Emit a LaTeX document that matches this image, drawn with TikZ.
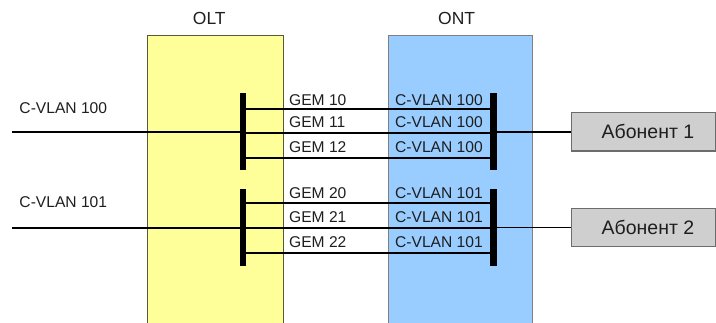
\documentclass[tikz,border=0pt]{standalone}
\usepackage{fontspec}
\setmainfont{Liberation Sans}
\definecolor{oltfill}{HTML}{FFFF99}
\definecolor{ontfill}{HTML}{99CCFF}
\definecolor{abfill}{HTML}{CFCFCF}
\definecolor{txt}{HTML}{1E1E1E}
\begin{document}
\begin{tikzpicture}[x=1pt,y=-1pt,
  devbox/.style={draw=#1, line width=1pt, anchor=north west, inner sep=0pt},
  busbar/.style={fill=black, draw=none, minimum width=6.5, inner sep=0pt},
  link/.style={line width=1.8pt, draw=black},
  lbl/.style={text=txt, inner sep=0pt, anchor=base west, font=\fontsize{15.6}{18}\selectfont},
  title/.style={text=txt, inner sep=0pt, anchor=base, font=\fontsize{17.5}{20}\selectfont},
  subbox/.style={draw=gray!85!black, fill=abfill, line width=1.2pt, inner sep=0pt,
    minimum width=144.3, minimum height=38.5, anchor=west, text=txt,
    font=\fontsize{19.5}{22}\selectfont}]
\useasboundingbox (0,0) rectangle (716,323);
\clip (0,0) rectangle (716,323);
% device boxes
\node[devbox=black!65!oltfill, fill=oltfill, minimum width=136, minimum height=300] (olt) at (147,35) {};
\node[devbox=gray, fill=ontfill, minimum width=144.6, minimum height=300] (ont) at (387.7,35) {};
\node[title] (oltt) at (209.3,25) {OLT};
\node[title] (ontt) at (456.7,25) {ONT};
% bus bars
\node[busbar, minimum height=77.3] (b1) at (243,131.3) {};
\node[busbar, minimum height=77.3] (b2) at (243,227.4) {};
\node[busbar, minimum height=77.3] (c1) at (493.7,131.3) {};
\node[busbar, minimum height=77.3] (c2) at (493.7,227.4) {};
% row coordinates
\coordinate (r10) at (0,109.3);
\coordinate (r11) at (0,133.3);
\coordinate (r12) at (0,158.3);
\coordinate (r20) at (0,203.3);
\coordinate (r21) at (0,227.7);
\coordinate (r22) at (0,252.7);
\coordinate (in1) at (12,131.7);
\coordinate (in2) at (12,227.7);
% subscriber boxes
\node[subbox] (ab1) at (570.7,131.7) {\hspace*{9pt}Абонент 1};
\node[subbox] (ab2) at (570.7,227.5) {\hspace*{9pt}Абонент 2};
% GEM links
\foreach \r/\a/\b in {r10/b1/c1, r11/b1/c1, r12/b1/c1, r20/b2/c2, r21/b2/c2, r22/b2/c2}
  \draw[link] (\a.east |- \r) -- (\b.west |- \r);
% inputs and outputs
\draw[link] (in1) -- (b1.west |- in1);
\draw[link] (in2) -- (b2.west |- in2);
\draw[link] (c1.east |- ab1.west) -- (ab1.west);
\draw[link] (c2.east |- ab2.west) -- (ab2.west);
% labels
\node[lbl] (v100) at (19.3,114) {C-VLAN 100};
\node[lbl] (v101) at (19.3,208) {C-VLAN 101};
\node[lbl] (g10) at (289,105.3) {GEM 10};
\node[lbl] (g11) at (289,127.6) {GEM 11};
\node[lbl] (g12) at (289,152.1) {GEM 12};
\node[lbl] (g20) at (289,198.2) {GEM 20};
\node[lbl] (g21) at (289,222.2) {GEM 21};
\node[lbl] (g22) at (289,247.7) {GEM 22};
\node[lbl] (o10) at (395,105.3) {C-VLAN 100};
\node[lbl] (o11) at (395,127.6) {C-VLAN 100};
\node[lbl] (o12) at (395,152.1) {C-VLAN 100};
\node[lbl] (o20) at (395,198.2) {C-VLAN 101};
\node[lbl] (o21) at (395,222.2) {C-VLAN 101};
\node[lbl] (o22) at (395,247.7) {C-VLAN 101};
\end{tikzpicture}
\end{document}
